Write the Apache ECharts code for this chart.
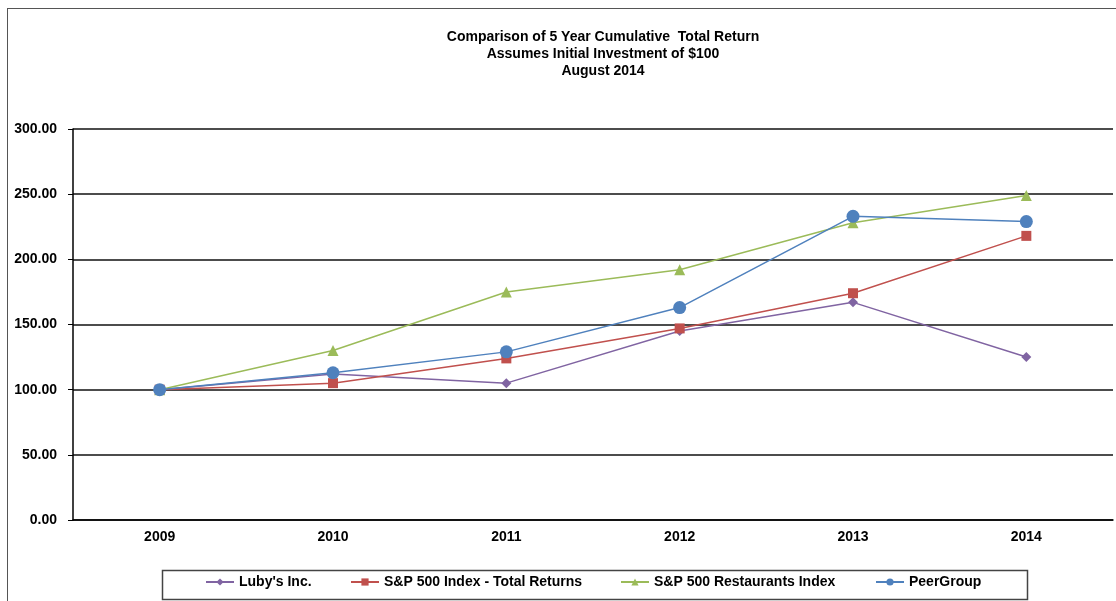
<!DOCTYPE html>
<html>
<head>
<meta charset="utf-8">
<script src="https://cdn.jsdelivr.net/npm/echarts@6/dist/echarts.min.js"></script>
<style>
html,body{margin:0;padding:0;background:#fff;}
#frame{position:absolute;left:7px;top:8px;width:1120px;height:600px;border-left:1.5px solid #555;border-top:1.5px solid #555;}
#chart{position:absolute;left:0;top:0;width:1116px;height:601px;}
</style>
</head>
<body>
<div id="frame"></div>
<div id="chart"></div>
<script>
const categories = ['2009', '2010', '2011', '2012', '2013', '2014'];
const lubys = [100, 112, 105, 145, 167, 125];
const sp500 = [100, 105, 124, 147, 174, 218];
const restaurants = [100, 130, 175, 192, 228, 249];
const peerGroup = [100, 113, 129, 163, 233, 229];
const yTicks = [0, 50, 100, 150, 200, 250, 300];
const titleLines = ['Comparison of 5 Year Cumulative  Total Return', 'Assumes Initial Investment of $100', 'August 2014'];
const seriesNames = ["Luby's Inc.", 'S&P 500 Index - Total Returns', 'S&P 500 Restaurants Index', 'PeerGroup'];

const FONT = '"Liberation Sans", Arial, sans-serif';
const chart = echarts.init(document.getElementById('chart'));
const colors = ['#8064a2', '#c0504d', '#9bbb59', '#4f81bd'];
const symbols = ['diamond', 'rect', 'triangle', 'circle'];
const sizes = [10, 10, 11, 13];
const datas = [lubys, sp500, restaurants, peerGroup];
const legendLefts = [200, 345, 615, 870];

chart.setOption({
  animation: false,
  title: {
    text: titleLines.join('\n'),
    left: 598, top: 24, textAlign: 'center',
    textStyle: {fontFamily: FONT, fontWeight: 'bold', fontSize: 14, lineHeight: 17, color: '#000'}
  },
  graphic: [{
    type: 'rect', left: 160, top: 568, shape: {width: 865, height: 29},
    style: {fill: 'none', stroke: '#444', lineWidth: 1.5}
  }],
  legend: seriesNames.map((n, i) => ({
    data: [n], left: legendLefts[i], top: 570, itemWidth: 28, itemHeight: 9, itemGap: 4,
    textStyle: {fontFamily: FONT, fontWeight: 'bold', fontSize: 14, color: '#000'}
  })),
  grid: {left: 73, right: 3, top: 129, bottom: 81},
  xAxis: {
    type: 'category', data: categories, boundaryGap: true,
    axisLine: {lineStyle: {color: '#000', width: 1.5}},
    axisTick: {alignWithLabel: true, length: 5, lineStyle: {color: '#000'}},
    axisLabel: {fontFamily: FONT, fontWeight: 'bold', fontSize: 14, color: '#000', margin: 10}
  },
  yAxis: {
    type: 'value', min: 0, max: 300, interval: 50,
    axisLine: {show: true, lineStyle: {color: '#000', width: 1.5}},
    axisTick: {show: true, length: 5, lineStyle: {color: '#000'}},
    splitLine: {lineStyle: {color: '#111', width: 1.5}},
    axisLabel: {fontFamily: FONT, fontWeight: 'bold', fontSize: 14, color: '#000', margin: 16,
      formatter: v => yTicks.includes(v) ? v.toFixed(2) : ''}
  },
  series: seriesNames.map((n, i) => ({
    name: n, type: 'line', data: datas[i],
    symbol: symbols[i], symbolSize: sizes[i],
    itemStyle: {color: colors[i]},
    lineStyle: {color: colors[i], width: 1.5}
  }))
});
</script>
</body>
</html>
